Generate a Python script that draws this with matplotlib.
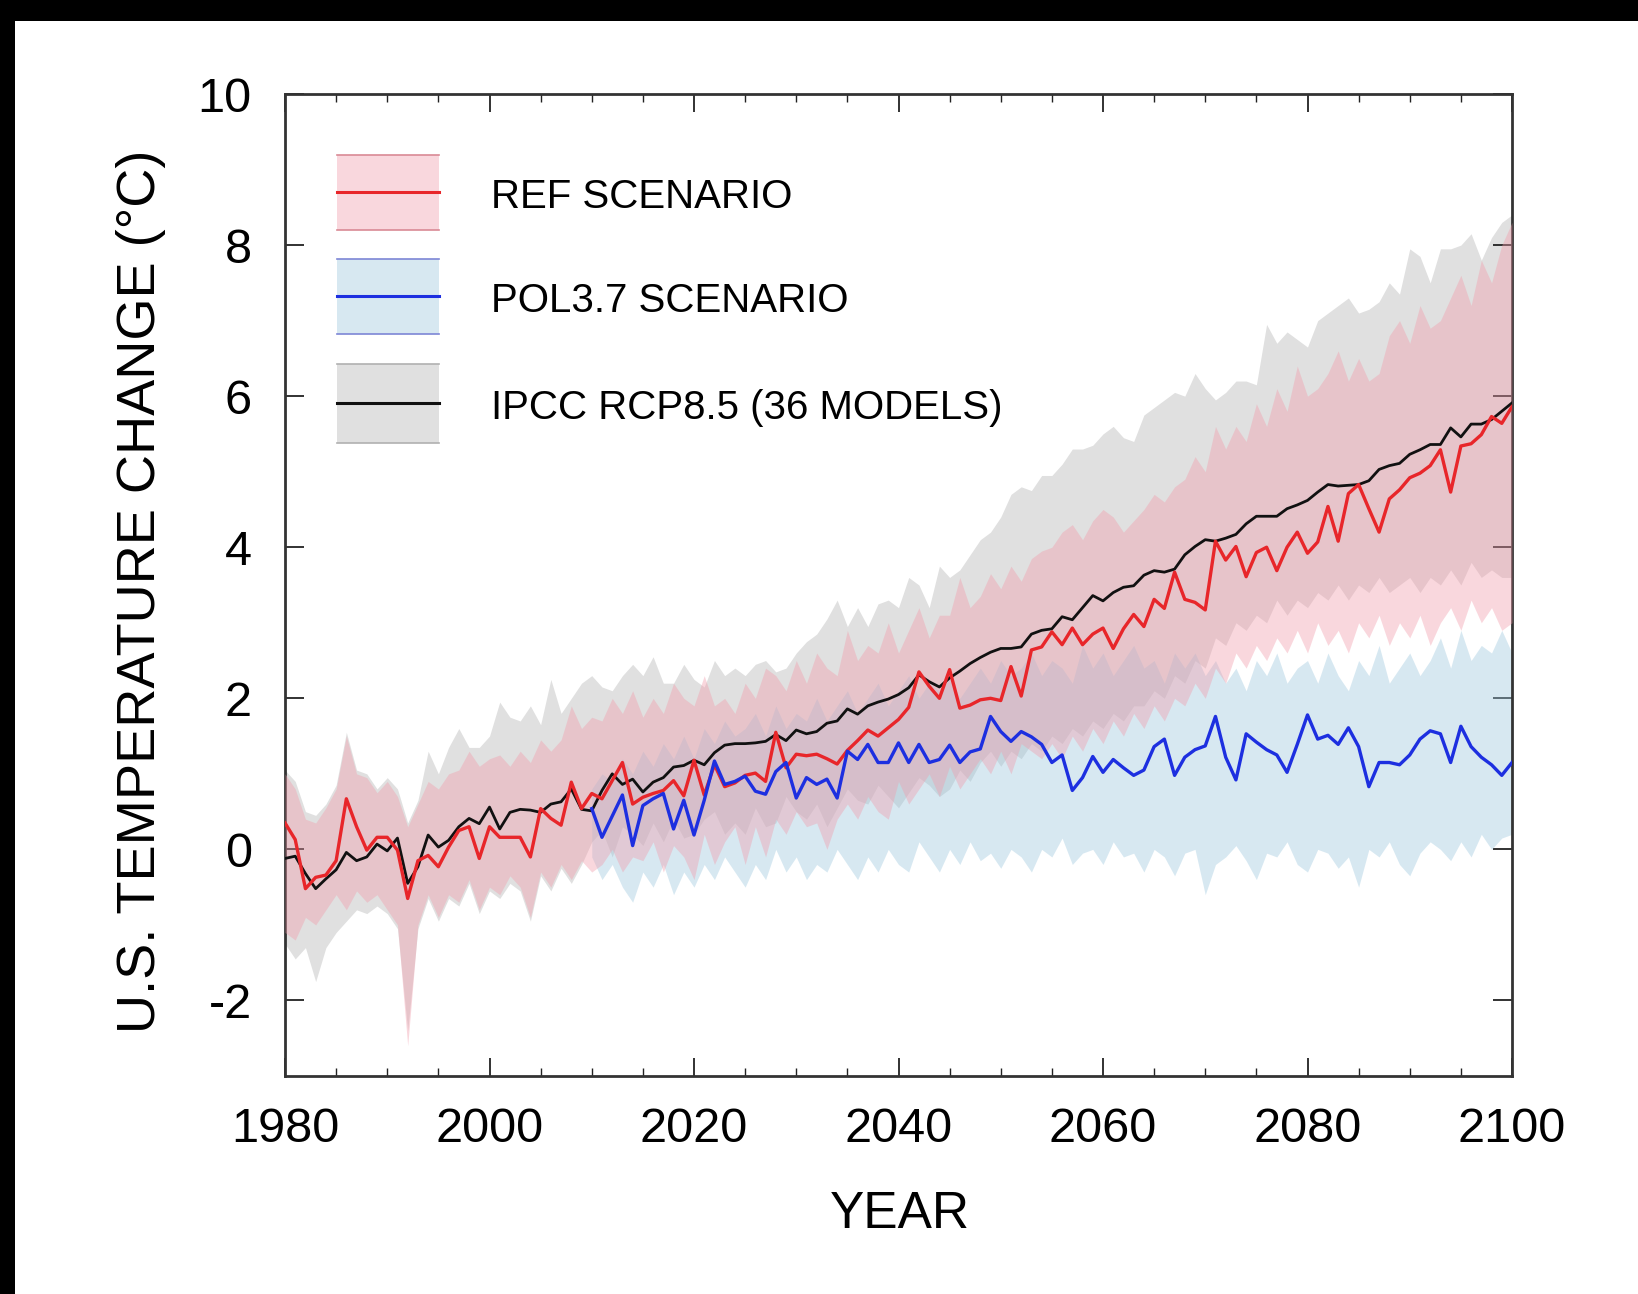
import numpy as np
import matplotlib.pyplot as plt
from matplotlib.patches import Rectangle
from matplotlib.lines import Line2D

plt.rcParams['font.family'] = ['Liberation Sans', 'DejaVu Sans']
plt.rcParams['axes.unicode_minus'] = False

years = np.arange(1980, 2101)
pol_years = np.arange(2010, 2101)

# ensemble means
ipcc_mean = [-0.12, -0.09, -0.32, -0.52, -0.39, -0.27, -0.04, -0.15, -0.10, 0.07,
             -0.02, 0.15, -0.45, -0.23, 0.19, 0.03, 0.12, 0.30, 0.41, 0.34,
             0.56, 0.27, 0.49, 0.53, 0.52, 0.49, 0.60, 0.63, 0.80, 0.53,
             0.51, 0.78, 1.00, 0.86, 0.93, 0.76, 0.89, 0.95, 1.09, 1.11,
             1.18, 1.12, 1.28, 1.38, 1.40, 1.40, 1.41, 1.43, 1.52, 1.44,
             1.58, 1.53, 1.56, 1.67, 1.70, 1.86, 1.79, 1.90, 1.95, 1.99,
             2.05, 2.14, 2.31, 2.22, 2.15, 2.27, 2.36, 2.46, 2.54, 2.61,
             2.66, 2.66, 2.68, 2.85, 2.90, 2.92, 3.08, 3.04, 3.20, 3.36,
             3.29, 3.40, 3.47, 3.49, 3.63, 3.69, 3.67, 3.71, 3.90, 4.01,
             4.10, 4.08, 4.12, 4.17, 4.31, 4.41, 4.41, 4.41, 4.51, 4.56,
             4.62, 4.73, 4.83, 4.81, 4.82, 4.83, 4.88, 5.03, 5.08, 5.11,
             5.23, 5.29, 5.36, 5.36, 5.58, 5.46, 5.63, 5.63, 5.69, 5.80,
             5.91]
ref_mean = [0.35, 0.13, -0.52, -0.37, -0.34, -0.15, 0.67, 0.30, -0.01, 0.16,
            0.16, -0.01, -0.65, -0.15, -0.08, -0.23, 0.03, 0.25, 0.30, -0.12,
            0.30, 0.16, 0.16, 0.16, -0.10, 0.54, 0.41, 0.32, 0.89, 0.54,
            0.74, 0.67, 0.91, 1.15, 0.60, 0.69, 0.74, 0.78, 0.91, 0.71,
            1.18, 0.72, 1.12, 0.83, 0.88, 0.98, 1.01, 0.90, 1.55, 1.08,
            1.26, 1.24, 1.26, 1.20, 1.13, 1.31, 1.44, 1.58, 1.50, 1.61,
            1.72, 1.88, 2.35, 2.16, 2.00, 2.38, 1.87, 1.91, 1.98, 2.00,
            1.97, 2.42, 2.03, 2.64, 2.68, 2.88, 2.71, 2.93, 2.71, 2.85,
            2.93, 2.66, 2.92, 3.11, 2.95, 3.31, 3.19, 3.67, 3.31, 3.27,
            3.17, 4.08, 3.83, 4.01, 3.61, 3.93, 4.00, 3.69, 4.00, 4.20,
            3.92, 4.07, 4.54, 4.08, 4.71, 4.83, 4.51, 4.20, 4.64, 4.76,
            4.92, 4.98, 5.08, 5.29, 4.73, 5.34, 5.37, 5.49, 5.73, 5.64,
            5.86]
pol_mean = [0.54, 0.16, 0.44, 0.72, 0.05, 0.58, 0.67, 0.74, 0.27, 0.65,
            0.19, 0.65, 1.17, 0.86, 0.90, 0.97, 0.77, 0.73, 1.03, 1.15,
            0.68, 0.95, 0.86, 0.93, 0.68, 1.30, 1.19, 1.39, 1.15, 1.15,
            1.41, 1.15, 1.39, 1.15, 1.19, 1.38, 1.15, 1.29, 1.33, 1.76,
            1.56, 1.43, 1.56, 1.49, 1.39, 1.15, 1.25, 0.78, 0.95, 1.23,
            1.02, 1.19, 1.08, 0.98, 1.05, 1.36, 1.46, 0.98, 1.22, 1.32,
            1.37, 1.76, 1.22, 0.92, 1.53, 1.42, 1.32, 1.25, 1.02, 1.39,
            1.78, 1.46, 1.51, 1.39, 1.61, 1.36, 0.83, 1.15, 1.15, 1.12,
            1.25, 1.46, 1.57, 1.53, 1.15, 1.63, 1.36, 1.22, 1.12, 0.98,
            1.15]

# ranges
ipcc_hi = [1.05, 0.9, 0.5, 0.45, 0.6, 0.85, 1.55, 1.05, 1.0, 0.8,
           0.95, 0.8, 0.35, 0.65, 1.3, 1.0, 1.35, 1.6, 1.35, 1.35,
           1.5, 1.95, 1.75, 1.7, 1.9, 1.65, 2.25, 1.8, 2.0, 2.2,
           2.3, 2.15, 2.1, 2.3, 2.45, 2.3, 2.55, 2.2, 2.2, 2.45,
           2.25, 2.15, 2.5, 2.3, 2.4, 2.3, 2.45, 2.5, 2.35, 2.4,
           2.6, 2.75, 2.85, 3.05, 3.3, 2.95, 3.2, 2.95, 3.25, 3.3,
           3.2, 3.6, 3.5, 3.2, 3.75, 3.6, 3.7, 3.9, 4.1, 4.2,
           4.4, 4.7, 4.8, 4.75, 4.95, 4.95, 5.1, 5.3, 5.3, 5.35,
           5.5, 5.6, 5.45, 5.4, 5.75, 5.85, 5.95, 6.05, 6.0, 6.3,
           6.1, 5.95, 6.05, 6.2, 6.2, 6.15, 6.95, 6.7, 6.85, 6.75,
           6.65, 7.0, 7.1, 7.2, 7.3, 7.1, 7.15, 7.25, 7.5, 7.35,
           7.95, 7.85, 7.5, 7.95, 7.95, 8.0, 8.15, 7.8, 8.1, 8.3,
           8.4]
ipcc_lo = [-1.25, -1.45, -1.3, -1.75, -1.3, -1.1, -0.95, -0.8, -0.85, -0.75,
           -0.85, -1.05, -2.4, -1.05, -0.65, -0.95, -0.65, -0.75, -0.45, -0.85,
           -0.55, -0.65, -0.45, -0.55, -0.95, -0.35, -0.55, -0.25, -0.45, -0.2,
           0.1, 0.25, -0.1, 0.3, 0.2, 0.05, 0.35, 0.1, 0.4, 0.15,
           0.2, 0.4, 0.5, 0.2, 0.35, 0.2, 0.55, 0.3, 0.35, 0.7,
           0.5, 0.4, 0.6, 0.3, 0.55, 0.8, 0.65, 0.6, 0.85, 0.7,
           0.55, 0.75, 0.95, 0.85, 0.7, 0.8, 1.05, 0.9, 1.15, 1.3,
           1.1, 1.3, 1.2, 1.4, 1.3, 1.5, 1.4, 1.6, 1.5, 1.7,
           1.6, 1.8, 1.7, 1.9, 1.9, 2.1, 2.0, 2.3, 2.2, 2.5,
           2.4, 2.8, 2.7, 3.0, 2.9, 3.1, 3.0, 3.3, 3.1, 3.3,
           3.2, 3.4, 3.3, 3.5, 3.3, 3.5, 3.4, 3.6, 3.4, 3.5,
           3.6, 3.4, 3.6, 3.5, 3.7, 3.5, 3.8, 3.6, 3.7, 3.6,
           3.6]
ref_hi = [1.0, 0.8, 0.4, 0.35, 0.55, 0.8, 1.5, 1.0, 0.95, 0.75,
          0.9, 0.7, 0.3, 0.6, 0.9, 0.8, 1.0, 1.05, 1.3, 1.1,
          1.2, 1.25, 1.1, 1.3, 1.15, 1.45, 1.3, 1.45, 1.9, 1.6,
          1.75, 1.7, 2.0, 1.8, 2.1, 1.75, 2.0, 1.8, 2.2, 2.0,
          1.9, 2.3, 1.9, 2.0, 1.8, 2.2, 2.0, 2.4, 2.3, 2.1,
          2.5, 2.2, 2.6, 2.4, 2.3, 2.9, 2.5, 2.7, 2.6, 3.0,
          2.6, 2.9, 3.2, 2.8, 3.1, 3.1, 3.6, 3.2, 3.35, 3.65,
          3.45, 3.75, 3.55, 3.85, 3.95, 4.0, 4.2, 4.3, 4.1, 4.35,
          4.5, 4.4, 4.2, 4.35, 4.5, 4.7, 4.6, 4.8, 4.9, 5.2,
          5.0, 5.6, 5.3, 5.6, 5.4, 5.9, 5.6, 6.1, 5.8, 6.4,
          6.0, 6.1, 6.3, 6.6, 6.2, 6.5, 6.2, 6.3, 6.8, 7.0,
          6.7, 7.2, 6.9, 7.0, 7.3, 7.6, 7.2, 7.8, 7.5, 8.0,
          8.3]
ref_lo = [-1.1, -1.2, -0.9, -1.0, -0.8, -0.6, -0.8, -0.55, -0.7, -0.6,
          -0.8, -1.0, -2.6, -1.0, -0.6, -0.9, -0.6, -0.7, -0.4, -0.8,
          -0.5, -0.6, -0.35, -0.5, -0.9, -0.3, -0.5, -0.2, -0.4, -0.15,
          -0.3, -0.2, 0.0, -0.3, -0.1, -0.15, 0.1, -0.3, 0.05, -0.1,
          -0.4, 0.2, -0.2, 0.1, 0.3, -0.2, 0.3, -0.1, 0.4, 0.2,
          0.5, 0.3, 0.35, 0.0, 0.4, 0.6, 0.4, 0.7, 0.5, 0.4,
          0.9, 0.6, 0.8, 1.0, 0.7, 1.1, 0.8, 1.0, 1.2, 1.0,
          1.3, 1.0, 1.4, 1.3, 1.2, 1.4, 1.2, 1.5, 1.3, 1.6,
          1.4, 1.7, 1.5, 1.8, 1.6, 1.9, 1.7, 2.0, 1.9, 2.2,
          2.0, 2.4, 2.2, 2.6, 2.4, 2.7, 2.5, 2.8, 2.6, 2.9,
          2.6, 3.0, 2.7, 2.9, 2.6, 3.0, 2.8, 3.1, 2.7, 3.0,
          2.8, 3.1, 2.7, 3.0, 3.2, 2.9, 3.3, 3.0, 3.2, 2.9,
          3.0]
pol_hi = [0.8, 1.0, 0.9, 1.2, 1.0, 1.3, 1.1, 1.4, 1.2, 1.5,
          1.2, 1.6, 1.4, 1.7, 1.5, 1.6, 1.8, 1.5, 1.9, 1.6,
          1.8, 1.7, 2.0, 1.7, 1.9, 2.1, 1.8, 2.0, 2.2, 1.9,
          2.1, 2.3, 2.0, 2.2, 2.1, 2.3, 2.0, 2.2, 2.4, 2.2,
          2.5, 2.3, 2.4, 2.6, 2.3, 2.5, 2.4, 2.2, 2.7, 2.4,
          2.6, 2.3, 2.5, 2.7, 2.4, 2.5, 2.2, 2.6, 2.4, 2.6,
          2.3, 2.5, 2.2, 2.4, 2.1, 2.5, 2.3, 2.6, 2.2, 2.4,
          2.5, 2.2, 2.6, 2.3, 2.1, 2.5, 2.3, 2.7, 2.2, 2.4,
          2.6, 2.3, 2.5, 2.8, 2.4, 2.9, 2.5, 2.7, 2.6, 2.9,
          2.6]
pol_lo = [-0.1, -0.4, -0.2, -0.5, -0.7, -0.3, -0.5, -0.2, -0.6, -0.3,
          -0.5, -0.2, -0.4, -0.1, -0.3, -0.5, -0.2, -0.4, 0.0, -0.3,
          -0.1, -0.4, -0.2, -0.3, 0.0, -0.2, -0.4, -0.1, -0.3, 0.0,
          -0.2, -0.3, 0.1, -0.1, -0.3, 0.0, -0.2, 0.1, -0.15, -0.05,
          -0.25, 0.0, -0.1, -0.3, 0.0, -0.1, 0.15, -0.2, -0.05, 0.0,
          -0.2, 0.1, -0.1, -0.05, -0.3, 0.0, -0.1, -0.35, -0.05, 0.0,
          -0.6, -0.2, -0.1, 0.05, -0.15, -0.4, -0.05, -0.1, 0.1, -0.2,
          -0.3, 0.0, -0.05, -0.25, -0.1, -0.5, 0.0, -0.1, 0.1, -0.2,
          -0.35, -0.05, 0.1, 0.0, -0.15, 0.1, -0.1, 0.2, 0.0, 0.15,
          0.2]

labels = ['REF SCENARIO', 'POL3.7 SCENARIO', 'IPCC RCP8.5 (36 MODELS)']

gray_fill = '#e0e0e0'
pink_fill = (0.95, 0.61, 0.67)
blue_fill = (0.61, 0.78, 0.87)
red = '#e8262a'
blue = '#1d2fe0'
black = '#111111'

fig = plt.figure(figsize=(16.38, 12.94), dpi=100)
W, H = 1638, 1294
ax = fig.add_axes([285 / W, 1 - 1076 / H, 1227 / W, 982 / H])

ax.fill_between(years, ipcc_lo, ipcc_hi, color=gray_fill, lw=0, zorder=1)
ax.fill_between(pol_years, pol_lo, pol_hi, color=blue_fill, alpha=0.4, lw=0, zorder=2)
ax.fill_between(years, ref_lo, ref_hi, color=pink_fill, alpha=0.4, lw=0, zorder=3)

ax.plot(years, ipcc_mean, color=black, lw=2.0, zorder=4)
ax.plot(years, ref_mean, color=red, lw=2.4, zorder=5)
ax.plot(pol_years, pol_mean, color=blue, lw=2.4, zorder=6)

ax.set_xlim(1980, 2100)
ax.set_ylim(-3, 10)
ax.set_xticks(np.arange(1980, 2101, 20))
ax.set_xticks(np.arange(1980, 2101, 5), minor=True)
ax.set_yticks(np.arange(-2, 11, 2))

ax.tick_params(axis='both', which='both', direction='in', top=True, right=True,
               colors='#222222', labelcolor='black', labelsize=35)
ax.tick_params(axis='x', which='major', length=13, width=1.3, pad=22)
ax.tick_params(axis='x', which='minor', length=6, width=1.0)
ax.tick_params(axis='y', which='major', length=14, width=1.3, pad=24)
for s in ax.spines.values():
    s.set_linewidth(2.0)
    s.set_color('#333333')

# legend drawn by hand: band box, edge lines, centre line
entries = [(labels[0], pink_fill, 0.4, '#d98a95', red, 0.8615, 0.938),
           (labels[1], blue_fill, 0.4, '#7d86d6', blue, 0.756, 0.832),
           (labels[2], gray_fill, 1.0, '#b0b0b0', black, 0.645, 0.725)]
x0, x1 = 0.042, 0.1255
for txt, fc, al, ec, lc, y0, y1 in entries:
    ax.add_patch(Rectangle((x0, y0), x1 - x0, y1 - y0, transform=ax.transAxes,
                           facecolor=fc, alpha=al, lw=0, zorder=7))
    for yy in (y0, y1):
        ax.add_line(Line2D([x0, x1], [yy, yy], transform=ax.transAxes,
                           color=ec, lw=1.2, zorder=8))
    ym = (y0 + y1) / 2
    ax.add_line(Line2D([x0, x1], [ym, ym], transform=ax.transAxes,
                       color=lc, lw=2.2, zorder=8))
    ax.text(0.168, ym - 0.005, txt, transform=ax.transAxes, fontsize=29,
            va='center', ha='left', zorder=9)

fig.text(141 / W, 1 - 591 / H, 'U.S. TEMPERATURE CHANGE (°C)', rotation=90,
         ha='center', va='center', fontsize=39)
fig.text(900 / W, 1 - 1214 / H, 'YEAR', ha='center', va='center', fontsize=37)

# black border strips of the original screenshot
fig.patches.append(Rectangle((0, 1 - 21 / H), 1, 21 / H, transform=fig.transFigure,
                             facecolor='black', lw=0, zorder=0))
fig.patches.append(Rectangle((0, 0), 15 / W, 1, transform=fig.transFigure,
                             facecolor='black', lw=0, zorder=0))

fig.savefig('out.png', dpi=100)
